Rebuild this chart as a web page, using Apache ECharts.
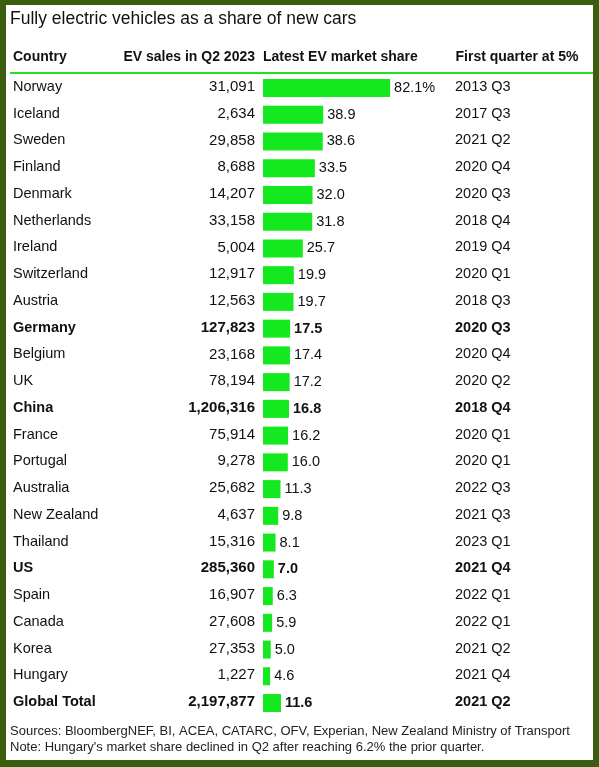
<!DOCTYPE html>
<html>
<head>
<meta charset="utf-8">
<script src="https://cdn.jsdelivr.net/npm/echarts@6/dist/echarts.min.js"></script>
<style>
html,body{margin:0;padding:0;background:#fff;}
#wrap{position:relative;width:599px;height:767px;background:#3b5f0f;overflow:hidden;}
#inner{position:absolute;left:6px;top:5px;width:587px;height:755px;background:#fff;}
#chart{position:absolute;left:0;top:0;width:599px;height:767px;}
</style>
</head>
<body>
<div id="wrap"><div id="inner"></div><div id="chart"></div></div>
<script>
const titleText = 'Fully electric vehicles as a share of new cars';
const headers = ['Country', 'EV sales in Q2 2023', 'Latest EV market share', 'First quarter at 5%'];
const footnotes = [
  'Sources: BloombergNEF, BI, ACEA, CATARC, OFV, Experian, New Zealand Ministry of Transport',
  "Note: Hungary's market share declined in Q2 after reaching 6.2% the prior quarter."
];
const countries = ['Norway','Iceland','Sweden','Finland','Denmark','Netherlands','Ireland','Switzerland','Austria','Germany','Belgium','UK','China','France','Portugal','Australia','New Zealand','Thailand','US','Spain','Canada','Korea','Hungary','Global Total'];
const evSales = [31091,2634,29858,8688,14207,33158,5004,12917,12563,127823,23168,78194,1206316,75914,9278,25682,4637,15316,285360,16907,27608,27353,1227,2197877];
const marketShare = [82.1,38.9,38.6,33.5,32.0,31.8,25.7,19.9,19.7,17.5,17.4,17.2,16.8,16.2,16.0,11.3,9.8,8.1,7.0,6.3,5.9,5.0,4.6,11.6];
const firstQuarter = ['2013 Q3','2017 Q3','2021 Q2','2020 Q4','2020 Q3','2018 Q4','2019 Q4','2020 Q1','2018 Q3','2020 Q3','2020 Q4','2020 Q2','2018 Q4','2020 Q1','2020 Q1','2022 Q3','2021 Q3','2023 Q1','2021 Q4','2022 Q1','2022 Q1','2021 Q2','2021 Q4','2021 Q2'];
const boldRows = ['Germany','China','US','Global Total'];

const FONT = '"Liberation Sans", Arial, sans-serif';
const TXT = '#111';
const GREEN = '#14e81f';

const chart = echarts.init(document.getElementById('chart'), null, {renderer:'canvas'});
const isBold = i => boldRows.indexOf(countries[i]) >= 0;
const fmtNum = n => n.toLocaleString('en-US');

const option = {
  backgroundColor: 'transparent',
  animation: false,
  textStyle: {fontFamily: FONT},
  grid: {left: 261, top: 74.6, width: 194, height: 641.8, containLabel: false},
  xAxis: {type: 'value', min: -1.3, max: 124.02, show: false},
  yAxis: [
    {
      type: 'category', inverse: true, data: countries, position: 'left',
      axisLine: {show: false}, axisTick: {show: false}, splitLine: {show: false},
      axisLabel: {
        interval: 0, margin: 248, align: 'left', padding: [0,0,2,0],
        formatter: (v, i) => {
          const b = isBold(i);
          return '{' + (b ? 'nb' : 'n') + '|' + v + '}{' + (b ? 'sb' : 's') + '|' + fmtNum(evSales[i]) + '}';
        },
        rich: {
          n: {width: 160, align: 'left', fontSize: 14.5, color: TXT, fontFamily: FONT},
          nb: {width: 160, align: 'left', fontSize: 14.5, fontWeight: 'bold', color: TXT, fontFamily: FONT},
          s: {width: 82, align: 'right', fontSize: 15, color: TXT, fontFamily: FONT},
          sb: {width: 82, align: 'right', fontSize: 15, fontWeight: 'bold', color: TXT, fontFamily: FONT}
        }
      }
    },
    {
      type: 'category', inverse: true, data: countries, position: 'right',
      axisLine: {show: false}, axisTick: {show: false}, splitLine: {show: false},
      axisLabel: {
        interval: 0, margin: 0, align: 'left', padding: [0,0,2,0],
        formatter: (v, i) => '{' + (isBold(i) ? 'qb' : 'q') + '|' + firstQuarter[i] + '}',
        rich: {
          q: {fontSize: 14.5, color: TXT, fontFamily: FONT},
          qb: {fontSize: 14.5, fontWeight: 'bold', color: TXT, fontFamily: FONT}
        }
      }
    }
  ],
  series: [{
    type: 'bar', data: marketShare, barWidth: 18, yAxisIndex: 0,
    itemStyle: {color: GREEN},
    label: {
      show: true, position: 'right', distance: 4,
      formatter: p => {
        const t = p.dataIndex === 0 ? p.value.toFixed(1) + '%' : p.value.toFixed(1);
        return '{' + (isBold(p.dataIndex) ? 'vb' : 'v') + '|' + t + '}';
      },
      rich: {
        v: {fontSize: 14.5, color: TXT, fontFamily: FONT},
        vb: {fontSize: 14.5, fontWeight: 'bold', color: TXT, fontFamily: FONT}
      }
    }
  }],
  graphic: [
    {type: 'text', x: 10, y: 19.5, style: {text: titleText, fontSize: 17.5, fill: TXT, fontFamily: FONT, verticalAlign: 'middle', align: 'left'}},
    {type: 'text', x: 13, y: 57.5, style: {text: headers[0], fontSize: 14, fontWeight: 'bold', fill: TXT, fontFamily: FONT, verticalAlign: 'middle', align: 'left'}},
    {type: 'text', x: 255, y: 57.5, style: {text: headers[1], fontSize: 14, fontWeight: 'bold', fill: TXT, fontFamily: FONT, verticalAlign: 'middle', align: 'right'}},
    {type: 'text', x: 263, y: 57.5, style: {text: headers[2], fontSize: 14, fontWeight: 'bold', fill: TXT, fontFamily: FONT, verticalAlign: 'middle', align: 'left'}},
    {type: 'text', x: 455.5, y: 57.5, style: {text: headers[3], fontSize: 14, fontWeight: 'bold', fill: TXT, fontFamily: FONT, verticalAlign: 'middle', align: 'left'}},
    {type: 'line', shape: {x1: 10, y1: 73, x2: 593, y2: 73}, style: {stroke: '#1fe31f', lineWidth: 2}},
    {type: 'text', x: 10, y: 731.5, style: {text: footnotes[0], fontSize: 13, fill: '#222', fontFamily: FONT, verticalAlign: 'middle', align: 'left'}},
    {type: 'text', x: 10, y: 747, style: {text: footnotes[1], fontSize: 13, fill: '#222', fontFamily: FONT, verticalAlign: 'middle', align: 'left'}}
  ]
};
chart.setOption(option);
</script>
</body>
</html>
